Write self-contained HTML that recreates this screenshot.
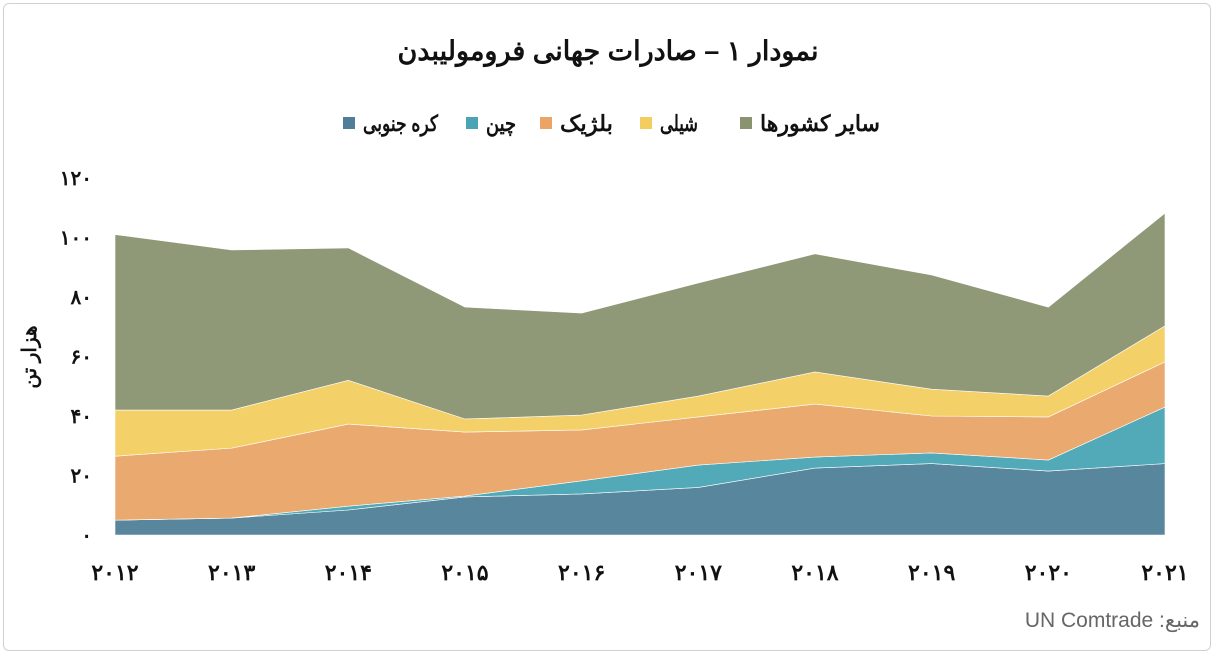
<!DOCTYPE html>
<html lang="fa" dir="rtl">
<head>
<meta charset="utf-8">
<style>
html,body{margin:0;padding:0;background:#fff;}
body{width:1216px;height:656px;overflow:hidden;font-family:"Liberation Sans","Noto Sans CJK SC",sans-serif;position:relative;}
#frame{position:absolute;left:3px;top:3px;width:1208px;height:648px;border:1px solid #d0d0d0;border-radius:6px;box-sizing:border-box;}
svg{position:absolute;left:0;top:0;}
#source{position:absolute;right:16px;top:608px;font-size:21px;color:#666;direction:rtl;white-space:nowrap;}
</style>
</head>
<body>
<div id="frame"></div>
<svg id="chart" width="1216" height="656">
  <text x="608" y="60" text-anchor="middle" font-size="27" font-weight="bold" fill="#111" direction="rtl">نمودار ۱ – صادرات جهانی فرومولیبدن</text>
  <g id="legend"></g>
  <g id="areas"></g>
  <g id="yticks"></g>
  <g id="xticks"></g>
  <text transform="translate(36,357) rotate(-90)" text-anchor="middle" font-size="20" font-weight="bold" fill="#111" direction="rtl">هزار تن</text>
</svg>
<div id="source">منبع: <span dir="ltr">UN Comtrade</span></div>
<script>
const years = ["۲۰۱۲","۲۰۱۳","۲۰۱۴","۲۰۱۵","۲۰۱۶","۲۰۱۷","۲۰۱۸","۲۰۱۹","۲۰۲۰","۲۰۲۱"];
const korea = [5,5.7,8.4,12.8,13.8,16,22.5,24,21.5,24];
const china = [0,0,1.3,0.3,4.4,7.5,3.7,3.6,3.7,19];
const belgium = [21.5,23.5,27.6,21.5,17.1,16.2,17.8,12.4,14.5,15.2];
const chile = [15.5,12.8,14.7,4.4,5,7,10.8,9,7,12.1];
const others = [59,53.8,44.5,37.6,34.3,38,39.7,38.4,29.9,37.9];
const yTicks = [0,20,40,60,80,100,120];
const yTickLabels = ["۰","۲۰","۴۰","۶۰","۸۰","۱۰۰","۱۲۰"];
const seriesNames = ["کره جنوبی","چین","بلژیک","شیلی","سایر کشورها"];

const NS="http://www.w3.org/2000/svg";
const X0=115,X1=1165,Y0=535,Y120=178;
const xs=i=>X0+(X1-X0)*i/(years.length-1);
const ys=v=>Y0-(Y0-Y120)*v/120;
const series=[korea,china,belgium,chile,others];
const colors=["#4f7f98","#49a4b4","#e9a466","#f2ce60","#8a9370"];
const slugs=["korea","china","belgium","chile","others"];

const yg=document.getElementById('yticks');
yTicks.forEach((t,i)=>{
  const tx=document.createElementNS(NS,'text');
  tx.setAttribute('x',92);tx.setAttribute('y',ys(t)+7);
  tx.setAttribute('text-anchor','end');tx.setAttribute('font-size','20');
  tx.setAttribute('font-weight','bold');tx.setAttribute('fill','#111');
  tx.setAttribute('direction','ltr');
  tx.textContent=yTickLabels[i];
  
  
  yg.appendChild(tx);
});
const xg=document.getElementById('xticks');
years.forEach((y,i)=>{
  const tx=document.createElementNS(NS,'text');
  tx.setAttribute('x',xs(i));tx.setAttribute('y',580);
  tx.setAttribute('text-anchor','middle');tx.setAttribute('font-size','22');
  tx.setAttribute('font-weight','bold');tx.setAttribute('fill','#111');
  tx.setAttribute('direction','ltr');
  tx.textContent=y;
  
  
  xg.appendChild(tx);
});
const ag=document.getElementById('areas');
let base=years.map(()=>0);
series.forEach((s,k)=>{
  const top=base.map((b,i)=>b+s[i]);
  let d='';
  top.forEach((v,i)=>{d+=(i?'L':'M')+xs(i)+','+ys(v);});
  for(let i=years.length-1;i>=0;i--) d+='L'+xs(i)+','+ys(base[i]);
  d+='Z';
  const p=document.createElementNS(NS,'path');
  p.setAttribute('d',d);p.setAttribute('fill',colors[k]);p.setAttribute('fill-opacity','0.95');
  p.setAttribute('stroke','#fff');p.setAttribute('stroke-width','0.6');
  
  
  ag.appendChild(p);
  base=top;
});
const lg=document.getElementById('legend');
const sqX=[343,466,540,640,740];
const txW=[75,30,53,38,120];
seriesNames.forEach((n,k)=>{
  const r=document.createElementNS(NS,'rect');
  r.setAttribute('x',sqX[k]);r.setAttribute('y',117);r.setAttribute('width',12);r.setAttribute('height',12);
  r.setAttribute('fill',colors[k]);
  
  
  lg.appendChild(r);
  const t=document.createElementNS(NS,'text');
  t.setAttribute('x',sqX[k]+20+txW[k]);t.setAttribute('y',131);
  t.setAttribute('text-anchor','start');t.setAttribute('font-size','22');t.setAttribute('font-weight','bold');
  t.setAttribute('fill','#111');t.setAttribute('direction','rtl');
  t.setAttribute('textLength',txW[k]);t.setAttribute('lengthAdjust','spacingAndGlyphs');
  t.textContent=n;
  
  
  lg.appendChild(t);
});
</script>
</body>
</html>
